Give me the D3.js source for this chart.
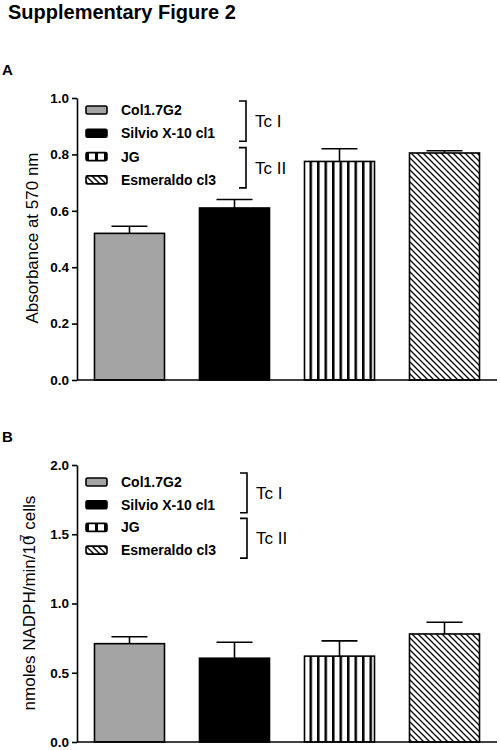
<!DOCTYPE html>
<html><head><meta charset="utf-8">
<script src="https://cdn.jsdelivr.net/npm/d3@7"></script>
<style>body{margin:0;background:#fff}svg{display:block;font-family:"Liberation Sans",Arial,sans-serif}</style>
</head><body>
<script>
const categories = ["Col1.7G2", "Silvio X-10 cl1", "JG", "Esmeraldo cl3"];
const fills = ["gray", "black", "vstripes", "hatch"];
const absorbance = [0.52, 0.61, 0.775, 0.805];
const absorbanceErr = [0.025, 0.03, 0.045, 0.008];
const nadph = [0.71, 0.605, 0.62, 0.78];
const nadphErr = [0.05, 0.115, 0.11, 0.085];
const groups = [{label: "Tc I", from: 0, to: 1}, {label: "Tc II", from: 2, to: 3}];
const ticksA = [0, 0.2, 0.4, 0.6, 0.8, 1.0];
const ticksB = [0, 0.5, 1.0, 1.5, 2.0];

const svg = d3.select("body").append("svg").attr("width", 500).attr("height", 750);
const defs = svg.append("defs");
let p = defs.append("pattern").attr("id", "vstripes").attr("patternUnits", "userSpaceOnUse")
  .attr("width", 7.5).attr("height", 10).attr("x", 2);
p.append("rect").attr("width", 7.5).attr("height", 10).attr("fill", "#fff");
p.append("rect").attr("x", 0).attr("width", 2.5).attr("height", 10).attr("fill", "#000");
p = defs.append("pattern").attr("id", "hatch").attr("patternUnits", "userSpaceOnUse")
  .attr("width", 6).attr("height", 6);
p.append("rect").attr("width", 6).attr("height", 6).attr("fill", "#fff");
p.append("path").attr("d", "M-1,-1 L7,7 M-4,2 L1,7 M2,-4 L7,1").attr("stroke", "#000").attr("stroke-width", 1.3);
p = defs.append("pattern").attr("id", "vstripesS").attr("patternUnits", "userSpaceOnUse")
  .attr("width", 9).attr("height", 10).attr("x", 86);
p.append("rect").attr("width", 9).attr("height", 10).attr("fill", "#fff");
p.append("rect").attr("x", 0).attr("width", 3).attr("height", 10).attr("fill", "#000");
p = defs.append("pattern").attr("id", "hatchS").attr("patternUnits", "userSpaceOnUse")
  .attr("width", 6).attr("height", 6);
p.append("rect").attr("width", 6).attr("height", 6).attr("fill", "#fff");
p.append("path").attr("d", "M-1,-1 L7,7 M-4,2 L1,7 M2,-4 L7,1").attr("stroke", "#000").attr("stroke-width", 1.5);

function fillOf(k, small) {
  if (k === "gray") return "#a4a4a4";
  if (k === "black") return "#000";
  return `url(#${k}${small ? "S" : ""})`;
}

svg.append("text").attr("x", 8).attr("y", 19).attr("font-size", 20).attr("font-weight", "bold")
  .text("Supplementary Figure 2");

function panel(cfg) {
  const g = svg.append("g");
  const y = d3.scaleLinear().domain([0, cfg.max]).range([cfg.y0, cfg.y1]);
  const x = d3.scaleBand().domain(categories).range([77, 497]).paddingInner(1/3).paddingOuter(1/6);
  g.append("text").attr("x", 2).attr("y", cfg.letterY).attr("font-size", 15).attr("font-weight", "bold").text(cfg.letter);
  g.selectAll(".bar").data(categories).join("rect")
    .attr("x", d => x(d)).attr("width", x.bandwidth())
    .attr("y", (d, i) => y(cfg.values[i])).attr("height", (d, i) => y(0) - y(cfg.values[i]))
    .attr("fill", (d, i) => fillOf(fills[i])).attr("stroke", "#000").attr("stroke-width", 1.6);
  const eb = g.selectAll(".eb").data(categories).join("g");
  eb.append("line").attr("x1", d => x(d) + x.bandwidth()/2).attr("x2", d => x(d) + x.bandwidth()/2)
    .attr("y1", (d, i) => y(cfg.values[i])).attr("y2", (d, i) => y(cfg.values[i] + cfg.err[i]))
    .attr("stroke", "#000").attr("stroke-width", 1.6);
  eb.append("line").attr("x1", d => x(d) + x.bandwidth()/2 - 18).attr("x2", d => x(d) + x.bandwidth()/2 + 18)
    .attr("y1", (d, i) => y(cfg.values[i] + cfg.err[i])).attr("y2", (d, i) => y(cfg.values[i] + cfg.err[i]))
    .attr("stroke", "#000").attr("stroke-width", 1.6);
  const ax = g.append("g").attr("transform", "translate(77,0)")
    .call(d3.axisLeft(y).tickValues(cfg.ticks).tickFormat(d3.format(".1f")).tickSizeOuter(0).tickSizeInner(5).tickPadding(3));
  ax.select(".domain").attr("stroke-width", 1.6);
  ax.selectAll(".tick line").attr("stroke-width", 1.6);
  ax.selectAll(".tick text").attr("font-size", 13.5).attr("font-weight", "bold").attr("fill", "#000")
    .attr("font-family", "Liberation Sans, Arial, sans-serif");
  g.append("line").attr("x1", 77).attr("x2", 497).attr("y1", y(0)).attr("y2", y(0))
    .attr("stroke", "#000").attr("stroke-width", 1.6);
  const lab = g.append("text").attr("transform", `translate(${cfg.labX},${cfg.labY}) rotate(-90)`)
    .attr("text-anchor", "middle").attr("font-size", 17);
  cfg.label(lab);
  const lg = g.selectAll(".lg").data(categories).join("g")
    .attr("transform", (d, i) => `translate(0,${cfg.legY + i * cfg.legStep})`);
  lg.append("rect").attr("x", 86).attr("y", -4).attr("width", 21).attr("height", 8).attr("rx", 1.5)
    .attr("fill", (d, i) => fillOf(fills[i], true)).attr("stroke", "#000").attr("stroke-width", 1.6);
  lg.append("text").attr("x", 121).attr("y", 5).attr("font-size", 14).attr("font-weight", "bold").text(d => d);
  groups.forEach(gr => {
    const t = cfg.legY + gr.from * cfg.legStep - 9;
    const b = cfg.legY + gr.to * cfg.legStep + 8;
    const bx = cfg.brX;
    g.append("path").attr("d", `M${bx - 7},${t} L${bx},${t} L${bx},${b} L${bx - 7},${b}`)
      .attr("fill", "none").attr("stroke", "#000").attr("stroke-width", 1.6);
    g.append("text").attr("x", bx + 9).attr("y", (t + b) / 2 + 6).attr("font-size", 17).text(gr.label);
  });
}

panel({letter: "A", letterY: 75, max: 1.0, y0: 380, y1: 98, ticks: ticksA, values: absorbance, err: absorbanceErr,
  labX: 38, labY: 238, legY: 110, legStep: 23.3, brX: 246,
  label: t => t.text("Absorbance at 570 nm")});
panel({letter: "B", letterY: 442, max: 2.0, y0: 742, y1: 465, ticks: ticksB, values: nadph, err: nadphErr,
  labX: 35, labY: 603, legY: 482, legStep: 22.7, brX: 247,
  label: t => {
    t.append("tspan").text("nmoles NADPH/min/10");
    t.append("tspan").attr("dx", -6).attr("dy", -6).attr("font-size", 13).text("7");
    t.append("tspan").attr("dy", 6).text(" cells");
  }});
</script>
</body></html>
